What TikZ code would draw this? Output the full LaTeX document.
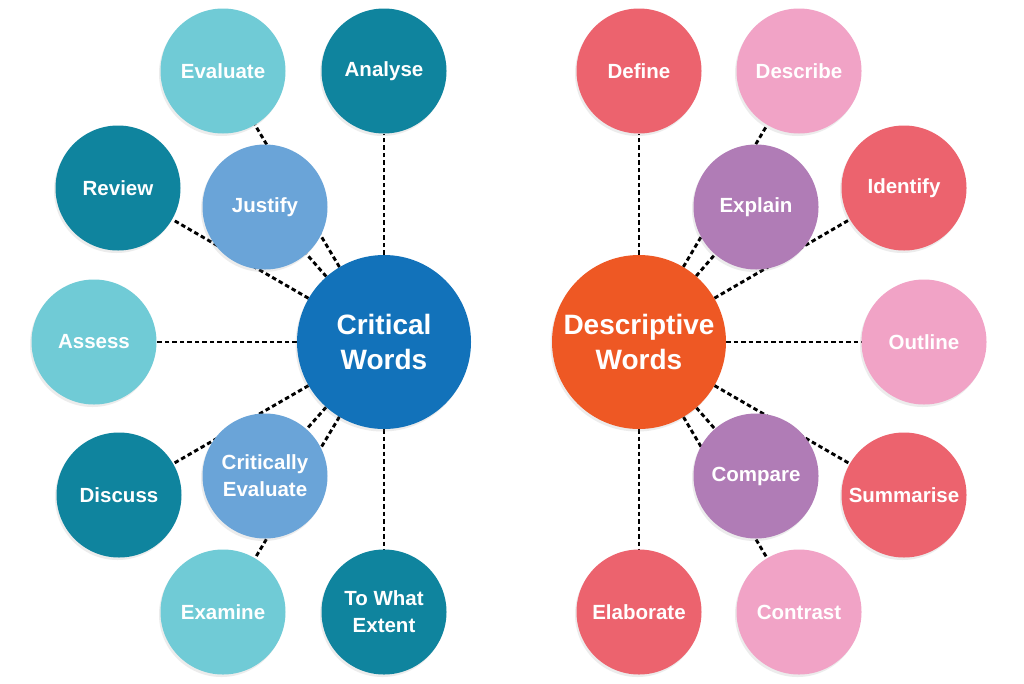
\documentclass[tikz,border=0pt]{standalone}
\usepackage{fontspec}
\setmainfont{Liberation Sans}
\usetikzlibrary{backgrounds,shadows}

\definecolor{critblue}{RGB}{18,114,186}
\definecolor{darkteal}{RGB}{15,132,158}
\definecolor{lightcyan}{RGB}{112,203,214}
\definecolor{midblue}{RGB}{106,164,216}
\definecolor{descorange}{RGB}{238,88,36}
\definecolor{coral}{RGB}{236,99,110}
\definecolor{softpink}{RGB}{241,163,198}
\definecolor{lilac}{RGB}{176,124,182}

\begin{document}
\begin{tikzpicture}[x = 1pt, y = -1pt,
        word/.style = {circle, minimum size = 125pt, inner sep = 0pt, align = center,
            text = white, font = \fontsize{20.5}{27}\selectfont\bfseries,
            drop shadow = {shadow xshift = -1.5pt, shadow yshift = -2.5pt, opacity = 0.15}},
        hub/.style = {word, minimum size = 174pt, font = \fontsize{28}{35}\selectfont\bfseries},
        link/.style = {line width = 2.9pt, dash pattern = on 4.5pt off 3pt}]
        \useasboundingbox (0,0) rectangle (1024,683);

        % critical words
        \node [hub, fill = critblue] (crit) at (384,342) {Critical\\Words};
        \node [word, fill = darkteal] (analyse) at (384,71) {Analyse};
        \node [word, fill = lightcyan] (evaluate) at (223,71) {Evaluate};
        \node [word, fill = midblue] (justify) at (265,207) {Justify};
        \node [word, fill = darkteal] (review) at (118,188) {Review};
        \node [word, fill = lightcyan] (assess) at (94,342) {Assess};
        \node [word, fill = darkteal] (discuss) at (119,495) {Discuss};
        \node [word, fill = midblue] (criteval) at (265,476) {Critically\\Evaluate};
        \node [word, fill = lightcyan] (examine) at (223,612) {Examine};
        \node [word, fill = darkteal] (extent) at (384,612) {To What\\Extent};

        % descriptive words
        \node [hub, fill = descorange] (desc) at (639,342) {Descriptive\\Words};
        \node [word, fill = coral] (define) at (639,71) {Define};
        \node [word, fill = softpink] (describe) at (799,71) {Describe};
        \node [word, fill = lilac] (explain) at (756,207) {Explain};
        \node [word, fill = coral] (identify) at (904,188) {Identify};
        \node [word, fill = softpink] (outline) at (924,342) {Outline};
        \node [word, fill = coral] (summarise) at (904,495) {Summarise};
        \node [word, fill = lilac] (compare) at (756,476) {Compare};
        \node [word, fill = softpink] (contrast) at (799,612) {Contrast};
        \node [word, fill = coral] (elaborate) at (639,612) {Elaborate};

        \begin{scope}[on background layer]
            \fill [white] (0,0) rectangle (1024,683);

            \draw [link] (crit) -- (analyse);
            \draw [link] (crit) -- (evaluate);
            \draw [link] (crit) -- (justify);
            \draw [link] (crit) -- (review);
            \draw [link] (crit) -- (assess);
            \draw [link] (crit) -- (discuss);
            \draw [link] (crit) -- (criteval);
            \draw [link] (crit) -- (examine);
            \draw [link] (crit) -- (extent);

            \draw [link] (desc) -- (define);
            \draw [link] (desc) -- (describe);
            \draw [link] (desc) -- (explain);
            \draw [link] (desc) -- (identify);
            \draw [link] (desc) -- (outline);
            \draw [link] (desc) -- (summarise);
            \draw [link] (desc) -- (compare);
            \draw [link] (desc) -- (contrast);
            \draw [link] (desc) -- (elaborate);
        \end{scope}
    \end{tikzpicture}
\end{document}
